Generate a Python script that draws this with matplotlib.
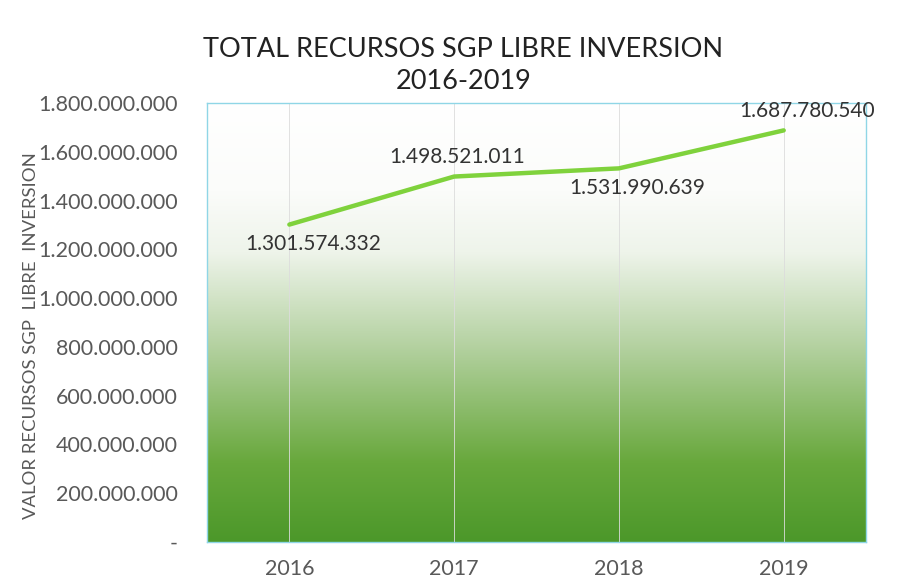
import numpy as np
import matplotlib
matplotlib.use("Agg")
import matplotlib.pyplot as plt
from matplotlib.colors import LinearSegmentedColormap
from matplotlib.ticker import FuncFormatter, MultipleLocator

plt.rcParams['font.family'] = ['Lato', 'DejaVu Sans']

years = ["2016", "2017", "2018", "2019"]
valores = [1301574332, 1498521011, 1531990639, 1687780540]
label_offsets = [(17, -14), (2, 14), (13, -14), (17, 14)]

def fmt_miles(v, pos=None):
    if abs(v) < 0.5:
        return "-"
    return f"{int(round(v)):,}".replace(",", ".")

fig = plt.figure(figsize=(9.05, 5.86), dpi=100)
ax = fig.add_axes([0.2287, 0.0751, 0.7283, 0.7491])

x = np.arange(len(years))
ax.set_xlim(-0.5, len(years) - 0.5)
ax.set_ylim(0, 1.8e9)

# vertical gradient background: white at top, green at bottom
grad = LinearSegmentedColormap.from_list(
    "fondo", [(0.0, "#4c982a"), (0.18, "#68a83c"), (0.45, "#b5d2a2"),
              (0.66, "#eef4ea"), (0.8, "#fbfcfa"), (1.0, "#ffffff")])
ax.imshow(np.linspace(0, 1, 256).reshape(-1, 1), cmap=grad, aspect="auto",
          origin="lower", extent=[0, 1, 0, 1], transform=ax.transAxes,
          zorder=0)

for xi in x:
    ax.axvline(xi, color="#dcdcdc", lw=0.6, zorder=1)

ax.plot(x, valores, color="#7fd23c", lw=3.2, solid_capstyle="round",
        zorder=3)

for xi, v, off in zip(x, valores, label_offsets):
    ax.annotate(fmt_miles(v), (xi, v), xytext=off, textcoords="offset points",
                ha="center", va="center", fontsize=15, color="#333333",
                zorder=4)

ax.set_xticks(x)
ax.set_xticklabels(years)
ax.yaxis.set_major_locator(MultipleLocator(2e8))
ax.yaxis.set_major_formatter(FuncFormatter(fmt_miles))
ax.tick_params(axis="both", length=0, labelsize=15.5, colors="#595959")
ax.tick_params(axis="y", pad=21)
ax.tick_params(axis="x", pad=12)

for s in ax.spines.values():
    s.set_color("#8fd6e6")
    s.set_linewidth(1.0)

ax.set_ylabel("VALOR RECURSOS SGP  LIBRE  INVERSION", fontsize=13.3,
              color="#595959")
ax.yaxis.set_label_coords(-0.255, 0.47)

fig.text(0.512, 0.888, "TOTAL RECURSOS SGP LIBRE INVERSION\n2016-2019",
         ha="center", va="center", fontsize=19.5, color="#222222",
         linespacing=1.35)

fig.savefig("out.png", dpi=100, facecolor="white")
